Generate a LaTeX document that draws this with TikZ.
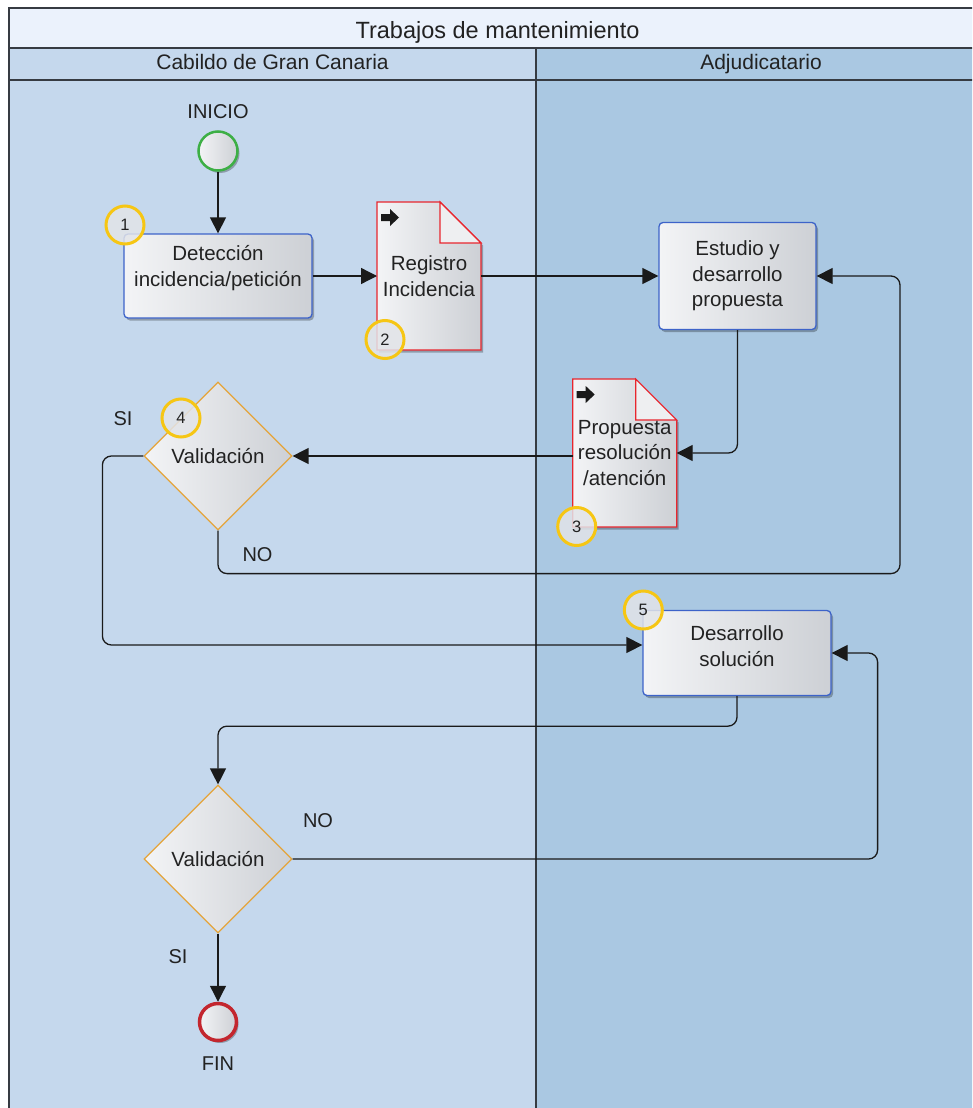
\documentclass[tikz,border=0pt]{standalone}
\usepackage{fontspec}
\setmainfont{Liberation Sans}
\usetikzlibrary{arrows.meta,shapes.geometric,shadows,calc}

\definecolor{ink}{HTML}{222222}
\definecolor{wire}{HTML}{1A1A1A}
\definecolor{framecol}{HTML}{363B42}
\definecolor{titlefill}{HTML}{EBF2FC}
\definecolor{laneA}{HTML}{C5D8ED}
\definecolor{laneB}{HTML}{AAC8E2}
\definecolor{gradL}{HTML}{F3F4F6}
\definecolor{gradR}{HTML}{CDD0D5}
\definecolor{foldfill}{HTML}{EEEFF1}
\definecolor{taskblue}{HTML}{3D63C9}
\definecolor{docred}{HTML}{E8262E}
\definecolor{gateorange}{HTML}{E4A43A}
\definecolor{startgreen}{HTML}{3DAF45}
\definecolor{endred}{HTML}{C3262E}
\definecolor{badgeyellow}{HTML}{F6C614}
\definecolor{badgefill}{HTML}{E2E4E8}

\pgfdeclarelayer{lanes}
\pgfdeclarelayer{pages}
\pgfsetlayers{lanes,pages,main}

% document page with a folded top-right corner, drawn around a named node
\newcommand\drawdocpage[1]{%
  \shade[left color=gradL,right color=gradR,softshadow]
    (#1.north west) -- ($(#1.north east)+(-41,0)$) -- ($(#1.north east)+(0,41)$)
    -- (#1.south east) -- (#1.south west) -- cycle;
  \draw[docline]
    (#1.north west) -- ($(#1.north east)+(-41,0)$) -- ($(#1.north east)+(0,41)$)
    -- (#1.south east) -- (#1.south west) -- cycle;
  \filldraw[docline,fill=foldfill]
    ($(#1.north east)+(-41,0)$) -- ($(#1.north east)+(-41,41)$) -- ($(#1.north east)+(0,41)$) -- cycle;
}

\begin{document}
\begin{tikzpicture}[x=1pt,y=-1pt,text=ink,
  softshadow/.style={drop shadow={shadow xshift=2pt,shadow yshift=-2.5pt,opacity=.28,fill=black}},
  nodetext/.style={font=\fontsize{20.5}{25.5}\selectfont,align=center,text=ink},
  task/.style={rectangle,rounded corners=4pt,draw=taskblue,line width=1.3pt,
    left color=gradL,right color=gradR,minimum width=188,minimum height=84,
    inner sep=0,nodetext,softshadow},
  doc/.style={rectangle,minimum width=104,minimum height=148,inner sep=0,outer sep=0,nodetext},
  docline/.style={draw=docred,line width=1.1pt,line join=miter},
  gateway/.style={diamond,draw=gateorange,line width=1.2pt,left color=gradL,right color=gradR,
    minimum width=148,minimum height=148,inner sep=0,nodetext},
  startev/.style={circle,draw=startgreen,line width=2.5pt,left color=gradL,right color=gradR,
    minimum size=39,inner sep=0,softshadow},
  endev/.style={circle,draw=endred,line width=3.5pt,left color=gradL,right color=gradR,
    minimum size=37,inner sep=0,softshadow},
  badge/.style={circle,draw=badgeyellow,line width=3pt,fill=badgefill,fill opacity=.85,
    text opacity=1,minimum size=38,inner sep=0,font=\fontsize{16.5}{16.5}\selectfont},
  lbl/.style={font=\fontsize{20}{20}\selectfont,anchor=base},
  hdr/.style={font=\fontsize{23.5}{28}\selectfont,anchor=base},
  lanehdr/.style={font=\fontsize{21}{24}\selectfont,anchor=base},
  flow/.style={draw=wire,line width=1.3pt,rounded corners=9pt,-{Triangle[length=16pt,width=16pt]}},
  framel/.style={draw=framecol,line width=2pt},
  pagearrow/.pic={\fill[wire] (4,12) -- (13,12) -- (13,7) -- (22,15.5) -- (13,24)
      -- (13,19) -- (4,19) -- cycle;}
]
\useasboundingbox (0,0) rectangle (972,1108);

% pool and lanes
\begin{pgfonlayer}{lanes}
\begin{scope}
  \clip (0,0) rectangle (972,1108);
  \fill[white] (0,0) rectangle (972,1108);
  \fill[titlefill] (9,8) rectangle (986,48);
  \fill[laneA] (9,48) rectangle (536,1120);
  \fill[laneB] (536,48) rectangle (986,1120);
  \draw[framel] (9,1120) -- (9,8) -- (986,8) -- (986,1120);
  \draw[framel] (9,48) -- (986,48);
  \draw[framel] (9,80) -- (986,80);
  \draw[draw=framecol,line width=1.5pt] (536,48) -- (536,1120);
\end{scope}
\end{pgfonlayer}

\node[hdr] (pool) at (497.5,39) {Trabajos de mantenimiento};
\node[lanehdr] (laneleft) at (272.5,70) {Cabildo de Gran Canaria};
\node[lanehdr] (laneright) at (761,70) {Adjudicatario};

% events
\node[startev] (start) at (218,151) {};
\node[lbl] (inicio) at (218,118.5) {INICIO};
\node[endev] (fin) at (218,1022) {};
\node[lbl] (finlbl) at (218,1070) {FIN};

% activities
\node[task,label={[nodetext,yshift=8pt]center:{Detección\\incidencia/petición}}] (t1) at (218,276) {};
\node[task,minimum width=157,minimum height=107] (est) at (737.5,276) {Estudio y\\desarrollo\\propuesta};
\node[task,minimum height=85,label={[nodetext,yshift=7pt]center:{Desarrollo\\solución}}] (sol) at (737,653) {};

% documents
\node[doc] (reg) at (429,276) {Registro\\Incidencia};
\node[doc] (prop) at (624.7,453) {Propuesta\\resolución\\/atención};
\begin{pgfonlayer}{pages}
  \drawdocpage{reg}
  \drawdocpage{prop}
\end{pgfonlayer}
\pic at (reg.north west) {pagearrow};
\pic at (prop.north west) {pagearrow};

% decisions
\node[gateway] (val1) at (218,456) {Validación};
\node[gateway] (val2) at (218,859) {Validación};

% flows
\draw[flow] (start) -- (t1);
\draw[flow] (t1) -- (reg);
\draw[flow] (reg) -- (est);
\draw[flow] (est.south) |- (prop.east);
\draw[flow] (prop.west |- val1.east) -- (val1.east);
\draw[flow] (val1.west) -- ++(-41,0) |- ($(sol.west)+(0,-8)$);
\draw[flow] (val1.south) -- ++(0,43) -- ++(682,0) |- (est.east);
\draw[flow] (sol.south) -- ++(0,30) -| (val2.north);
\draw[flow] (val2.east) -- ++(585,0) |- (sol.east);
\draw[flow] (val2.south) -- (fin);

% flow labels
\node[lbl] (si1) at (123,425.5) {SI};
\node[lbl] (no1) at (257.5,561) {NO};
\node[lbl] (no2) at (318,827.5) {NO};
\node[lbl] (si2) at (178,963.3) {SI};

% step numbers
\node[badge] (n1) at (125,225) {1};
\node[badge] (n2) at (385,339.5) {2};
\node[badge] (n3) at (576.7,526.5) {3};
\node[badge] (n4) at (181,418) {4};
\node[badge] (n5) at (643.3,610) {5};
\end{tikzpicture}
\end{document}
